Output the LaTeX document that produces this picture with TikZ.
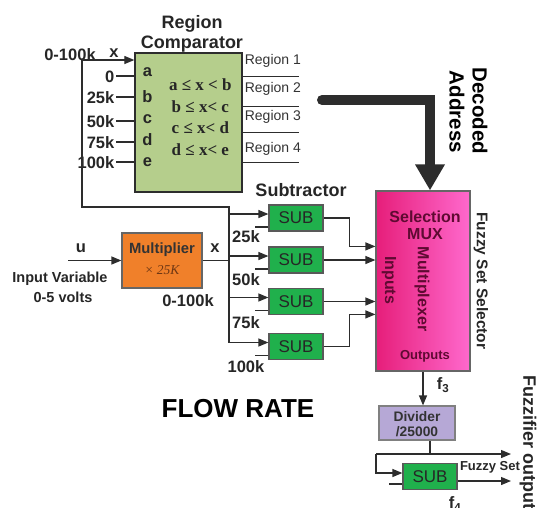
\documentclass[tikz,border=0pt]{standalone}
\usepackage{fontspec}
\setmainfont{Liberation Sans}
\newfontfamily\condFont{Liberation Serif}
\usetikzlibrary{arrows.meta, positioning, calc}

\definecolor{wireGray}{RGB}{45,45,45}
\definecolor{compGreen}{RGB}{181,206,140}
\definecolor{multOrange}{RGB}{240,128,42}
\definecolor{subGreen}{RGB}{32,176,76}
\definecolor{muxPinkL}{RGB}{230,30,122}
\definecolor{muxPinkR}{RGB}{255,105,205}
\definecolor{muxText}{RGB}{95,10,50}
\definecolor{divPurple}{RGB}{182,168,214}
\definecolor{gainBrown}{RGB}{110,55,20}

\tikzset{
    sigLine/.style={draw=wireGray, line width=1.2pt},
    tickLine/.style={draw=wireGray, line width=2pt},
    decArrow/.style={draw=wireGray, line width=10pt, line cap=round, -{Triangle[length=26pt, width=28pt]}},
    compBox/.style={rectangle, draw=wireGray, line width=1.3pt, fill=compGreen, minimum width=107pt, minimum height=139pt},
    multBox/.style={rectangle, draw=black!60, line width=1.2pt, fill=multOrange, minimum width=80pt, minimum height=55pt},
    subBox/.style={rectangle, draw=black!65, line width=1.2pt, fill=subGreen, minimum width=54pt, minimum height=26pt, inner sep=0pt, font=\fontsize{17}{20}\selectfont, text=black!85},
    muxBox/.style={rectangle, draw=black!60, line width=1.2pt, left color=muxPinkL, right color=muxPinkR, minimum width=94pt, minimum height=180pt},
    divBox/.style={rectangle, draw=black!50, line width=1.2pt, fill=divPurple, minimum width=76pt, minimum height=34pt},
    titleText/.style={font=\fontsize{18}{20}\selectfont\bfseries, text=black!85},
    lblText/.style={font=\fontsize{16.5}{18}\selectfont\bfseries, text=black!85},
    smallText/.style={font=\fontsize{14.5}{16}\selectfont\bfseries, text=black!85},
    regionText/.style={font=\fontsize{14}{16}\selectfont, text=black!80},
    condText/.style={font=\condFont\fontsize{17}{19}\selectfont\bfseries, text=black!85},
    muxLabel/.style={font=\fontsize{16}{18}\selectfont\bfseries, text=muxText}
}

\begin{document}
\begin{tikzpicture}[x=1pt, y=-1pt, >={Triangle[length=10pt, width=8pt]}]

    % --- Frame ---
    \useasboundingbox (0,0) rectangle (541,507);

    % --- Blocks ---
    \node[compBox] (comp) at (188.5,122.5) {};
    \node[multBox] (mult) at (162,260.5) {};
    \node[muxBox]  (mux)  at (423,281) {};
    \node[divBox]  (div)  at (417,423) {};
    \node[subBox]  (sub1) at (296,218) {SUB};
    \node[subBox]  (sub2) at (296,260) {SUB};
    \node[subBox]  (sub3) at (296,301.5) {SUB};
    \node[subBox]  (sub4) at (296,346.5) {SUB};
    \node[subBox]  (sub5) at (430,476.5) {SUB};

    % --- Titles ---
    \node[titleText] (compTitleA) at (192,24) {Region};
    \node[titleText] (compTitleB) at (192,44) {Comparator};
    \node[titleText] (subTitle) at (301,190) {Subtractor};
    \node[font=\fontsize{26}{28}\selectfont\bfseries] (flowTitle) at (238,409) {FLOW RATE};

    % --- Comparator inputs ---
    \node[lblText] (xRange) at (70,55) {0-100k};
    \node[lblText] (xName) at (114,53) {x};
    \coordinate (xIn) at (82,60);
    \draw[sigLine, ->] (xIn) -- (xIn -| comp.west);
    \foreach \n/\lbl/\d in {1/0/24, 2/25k/45, 3/50k/69, 4/75k/90, 5/100k/110} {
        \draw[tickLine] (comp.north west) ++(0,\d) -- ++(-18,0) node[lblText, anchor=east, inner sep=1pt] (thr\n) {\lbl};
    }
    \foreach \l/\d in {a/20, b/44, c/67, d/87, e/110}
        \node[lblText] (let\l) at ($(comp.north west)+(13,\d)$) {\l};
    \foreach \n/\cond/\d in {1/a ≤ x < b/32, 2/b ≤ x< c/54, 3/c ≤ x< d/75, 4/d ≤ x< e/97}
        \node[condText] (cond\n) at ($(comp.north west)+(66,\d)$) {\cond};

    % --- Region outputs ---
    \foreach \n/\d/\t in {1/24/9, 2/54/37, 3/80/65, 4/110/97} {
        \draw[sigLine] (comp.north east) ++(0,\d) -- ++(56,0);
        \node[regionText, anchor=west, inner sep=2pt] (reg\n) at ($(comp.north east)+(0,\t)$) {Region \n};
    }

    % --- Decoded address ---
    \coordinate (decStart) at (322,100);
    \draw[decArrow] (decStart) -| ($(mux.north)+(7,0)$);
    \node[font=\fontsize{20.5}{22}\selectfont\bfseries, rotate=-90] (decA) at (480,111) {Decoded};
    \node[font=\fontsize{20.5}{22}\selectfont\bfseries, rotate=-90] (decB) at (457,112) {Address};

    % --- Multiplier ---
    \node[font=\fontsize{14.8}{16}\selectfont\bfseries, text=black!80] (multName) at (162,250) {Multiplier};
    \node[font=\condFont\itshape\fontsize{13.5}{15}\selectfont, text=gainBrown] (multGain) at (162,270) {× 25K};
    \coordinate (uIn) at (68,260.5);
    \draw[sigLine, ->] (uIn) -- (mult.west);
    \node[lblText] (uName) at (81,248) {u};
    \node[smallText] (uDescA) at (60,279) {Input Variable};
    \node[smallText] (uDescB) at (63,297) {0-5 volts};
    \node[lblText] (xOut) at (215,248) {x};
    \node[lblText] (xOutRange) at (188,301) {0-100k};

    % --- Bus to subtractors ---
    \coordinate (bus) at (229,207);
    \foreach \s in {sub1,sub2,sub3,sub4} {
        \coordinate (\s a) at ($(\s.west)+(0,-4)$);
        \coordinate (\s b) at ($(\s.west)+(0,9)$);
        \draw[sigLine, ->] (bus |- \s a) -- (\s a);
        \draw[sigLine] (\s b) -- ++(-13,0);
    }
    \draw[sigLine] (xIn) |- (bus) -- (bus |- sub4a);
    \draw[sigLine] (mult.east) -- (mult.east -| bus);
    \foreach \n/\lbl/\y in {1/25k/237, 2/50k/280, 3/75k/323, 4/100k/367}
        \node[lblText] (const\n) at (246,\y) {\lbl};

    % --- Subtractors to MUX ---
    \coordinate (muxIn1) at ($(mux.north west)+(0,56)$);
    \coordinate (muxIn4) at ($(mux.north west)+(0,124)$);
    \draw[sigLine, ->] (sub1.east) -- ++(26,0) |- (muxIn1);
    \draw[sigLine, ->] (sub2.east) -- (sub2.east -| mux.west);
    \draw[sigLine, ->] (sub3.east) -- (sub3.east -| mux.west);
    \draw[sigLine, ->] (sub4.east) -- ++(26,0) |- (muxIn4);

    % --- MUX labels ---
    \node[muxLabel] (muxSel) at (425,217) {Selection};
    \node[muxLabel] (muxName) at (425,234) {MUX};
    \node[muxLabel, rotate=-90] (muxMult) at (422,289) {Multiplexer};
    \node[muxLabel, rotate=-90] (muxIns) at (389,280) {Inputs};
    \node[muxLabel, font=\fontsize{13}{15}\selectfont\bfseries] (muxOuts) at (425,356) {Outputs};
    \node[font=\fontsize{15.5}{17}\selectfont\bfseries, text=black!85, rotate=-90] (muxRole) at (481,281) {Fuzzy Set Selector};

    % --- Divider and fuzzifier ---
    \draw[sigLine, ->] (mux.south) -- (mux.south |- div.north);
    \node[lblText] (fThree) at (443,385) {f\textsubscript{3}};
    \node[font=\fontsize{13.8}{15}\selectfont\bfseries, text=black!80] (divName) at (417,417) {Divider};
    \node[font=\fontsize{13.8}{15}\selectfont\bfseries, text=black!80] (divGain) at (417,432) {/25000};
    \coordinate (divOut) at ($(div.south)+(13,0)$);
    \coordinate (fork) at ($(div.south)+(13,14)$);
    \coordinate (loopL) at (376,454);
    \coordinate (outTop) at (511,454);
    \draw[sigLine] (divOut) -- (fork);
    \draw[sigLine, ->] (loopL) -- (outTop);
    \coordinate (sub5a) at ($(sub5.west)+(0,-3.5)$);
    \coordinate (sub5b) at ($(sub5.west)+(0,7.5)$);
    \coordinate (sub5o) at ($(sub5.east)+(0,4.5)$);
    \draw[sigLine, ->] (loopL) |- (sub5a);
    \draw[sigLine] (sub5b) -- ++(-13,0);
    \draw[sigLine, ->] (sub5o) -- (sub5o -| outTop);
    \node[font=\fontsize{13}{15}\selectfont\bfseries, text=black!85] (fuzzySet) at (490,467) {Fuzzy Set};
    \node[lblText] (fFour) at (455,504) {f\textsubscript{4}};
    \node[font=\fontsize{18}{20}\selectfont\bfseries, text=black!85, rotate=-90, anchor=west] (fuzzOut) at (528,372) {Fuzzifier output};

\end{tikzpicture}
\end{document}
